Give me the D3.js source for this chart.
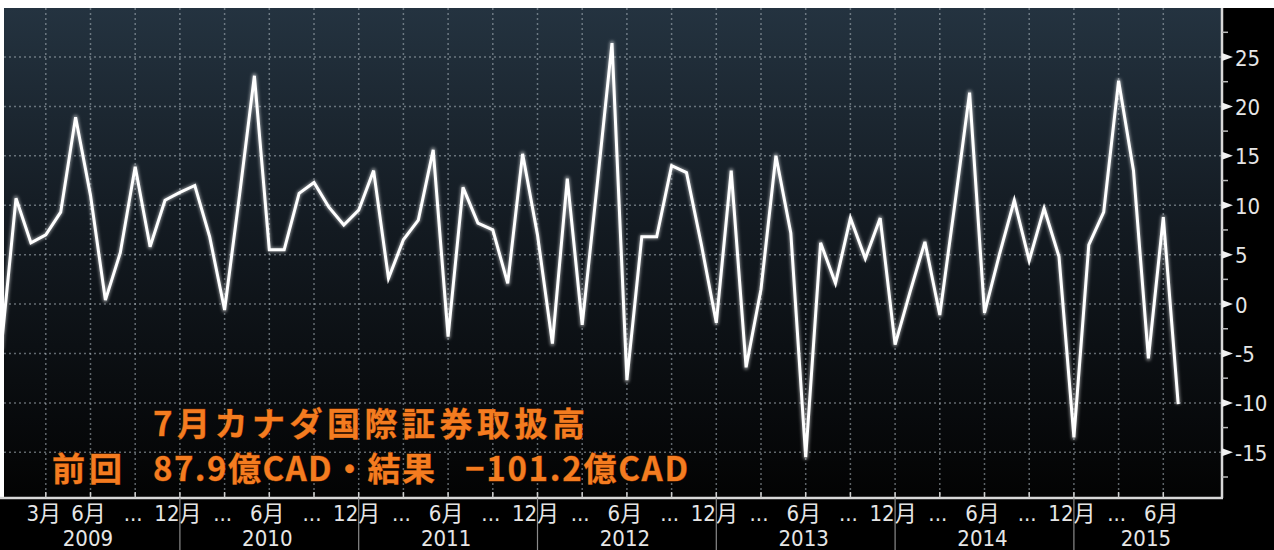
<!DOCTYPE html>
<html><head><meta charset="utf-8">
<script src="https://cdn.jsdelivr.net/npm/d3@7"></script>
<style>
html,body{margin:0;padding:0;background:#fff;}
svg{display:block;}
</style></head><body>
<svg id="c" width="1274" height="550"></svg>
<script>
// ---- data ----
const firstMonth = "2008-12";
const lastMonth = "2015-07";
const values = [
  -4.6,
  10.7, 6.2, 7.0, 9.3, 18.9, 11.0, 0.4, 5.2, 13.9, 5.8, 10.5, 11.3,
  12.0, 6.8, -0.6, 11.0, 23.1, 5.5, 5.5, 11.2, 12.3, 9.8, 8.0, 9.5,
  13.5, 2.6, 6.5, 8.5, 15.6, -3.3, 11.8, 8.2, 7.5, 2.1, 15.2, 7.0,
  -4.0, 12.7, -2.1, 12.0, 26.4, -7.7, 6.8, 6.8, 14.0, 13.3, 6.0, -1.9,
  13.5, -6.4, 1.5, 15.0, 7.2, -15.5, 6.2, 2.1, 8.7, 4.6, 8.7, -4.1,
  1.2, 6.3, -1.1, 10.0, 21.4, -0.9, 5.0, 10.5, 4.4, 9.7, 4.8, -13.5,
  6.0, 9.3, 22.6, 13.5, -5.5, 8.79, -10.12
];
const yTicks = [-15, -10, -5, 0, 5, 10, 15, 20, 25];
const yMinorTicks = [-17.5, -12.5, -7.5, -2.5, 2.5, 7.5, 12.5, 17.5, 22.5, 27.5];
const xTickMonths = [
  "2009-03","2009-06","2009-09","2009-12","2010-03","2010-06","2010-09","2010-12",
  "2011-03","2011-06","2011-09","2011-12","2012-03","2012-06","2012-09","2012-12",
  "2013-03","2013-06","2013-09","2013-12","2014-03","2014-06","2014-09","2014-12",
  "2015-03","2015-06"
];
const xTickLabels = [
  "3月","6月","...","12月","...","6月","...","12月",
  "...","6月","...","12月","...","6月","...","12月",
  "...","6月","...","12月","...","6月","...","12月",
  "...","6月"
];
const yearLabels = ["2009","2010","2011","2012","2013","2014","2015"];
const yearSeparators = ["2009-12","2010-12","2011-12","2012-12","2013-12","2014-12"];
const titleLine = "7月カナダ国際証券取扱高";
const subPieces = ["前回", "87.9億CAD・結果", "−101.2億CAD"];

// ---- layout ----
const W = 1274, H = 550;
const plot = {left: 4, top: 8, right: 1222, bottom: 498};
const parse = d3.timeParse("%Y-%m"), fmt = d3.timeFormat("%Y-%m");
const months = d3.timeMonth.range(parse(firstMonth), d3.timeMonth.offset(parse(lastMonth), 1)).map(fmt);
const data = months.map((m, i) => ({m, v: values[i]}));

const x = d3.scalePoint().domain(months).range([1.1, 1178.2]);
const y = d3.scaleLinear().domain([-15, 25]).range([452.3, 57]);

const svg = d3.select("#c");
const defs = svg.append("defs");
const grad = defs.append("linearGradient").attr("id", "bg").attr("x1", 0).attr("y1", 0).attr("x2", 0).attr("y2", 1);
grad.append("stop").attr("offset", "0%").attr("stop-color", "#243340");
grad.append("stop").attr("offset", "45%").attr("stop-color", "#131a21");
grad.append("stop").attr("offset", "100%").attr("stop-color", "#030303");
defs.append("clipPath").attr("id", "clip").append("rect")
  .attr("x", plot.left).attr("y", plot.top)
  .attr("width", plot.right - plot.left).attr("height", plot.bottom - plot.top);
const glow = defs.append("filter").attr("id", "glow").attr("x", "-5%").attr("y", "-5%").attr("width", "110%").attr("height", "110%");
glow.append("feGaussianBlur").attr("stdDeviation", 1.6);

// page backgrounds
svg.append("rect").attr("x", 0).attr("y", plot.bottom).attr("width", W).attr("height", H - plot.bottom).attr("fill", "#000");
svg.append("rect").attr("x", plot.right).attr("y", plot.top).attr("width", W - plot.right).attr("height", H - plot.top).attr("fill", "#000");
svg.append("rect").attr("x", plot.left).attr("y", plot.top)
  .attr("width", plot.right - plot.left).attr("height", plot.bottom - plot.top).attr("fill", "url(#bg)");

// grid
const grid = svg.append("g").attr("stroke", "#aab4bc").attr("stroke-opacity", 0.55)
  .attr("stroke-width", 1.5).attr("stroke-dasharray", "2,3");
grid.selectAll(".h").data(yTicks).join("line")
  .attr("x1", plot.left).attr("x2", plot.right)
  .attr("y1", d => y(d)).attr("y2", d => y(d));
grid.selectAll(".v").data(xTickMonths).join("line")
  .attr("x1", d => x(d)).attr("x2", d => x(d))
  .attr("y1", plot.top).attr("y2", plot.bottom);

// line
const line = d3.line().x(d => x(d.m)).y(d => y(d.v)).curve(d3.curveLinear);
const lg = svg.append("g").attr("clip-path", "url(#clip)");
lg.append("path").datum(data).attr("d", line).attr("fill", "none")
  .attr("stroke", "#ffffff").attr("stroke-opacity", 0.45).attr("stroke-width", 5)
  .attr("stroke-linejoin", "round").attr("filter", "url(#glow)");
lg.append("path").datum(data).attr("d", line).attr("fill", "none")
  .attr("stroke", "#ffffff").attr("stroke-width", 3)
  .attr("stroke-linejoin", "miter").attr("stroke-miterlimit", 4);

// axes lines
const axisColor = "#d8d8d8";
svg.append("line").attr("x1", 0).attr("x2", plot.right + 1).attr("y1", plot.bottom).attr("y2", plot.bottom)
  .attr("stroke", axisColor).attr("stroke-width", 2.5);
svg.append("line").attr("x1", plot.right).attr("x2", plot.right).attr("y1", plot.top).attr("y2", plot.bottom)
  .attr("stroke", axisColor).attr("stroke-width", 2.5);

// right axis ticks
svg.append("g").selectAll("path").data(yTicks).join("path")
  .attr("d", d => `M${plot.right},${y(d) - 4}L${plot.right + 11},${y(d)}L${plot.right},${y(d) + 4}Z`)
  .attr("fill", "#f0f0f0");
svg.append("g").selectAll("line").data(yMinorTicks).join("line")
  .attr("x1", plot.right).attr("x2", plot.right + 6)
  .attr("y1", d => y(d)).attr("y2", d => y(d))
  .attr("stroke", "#bbbbbb").attr("stroke-width", 1.5);
const labelFont = "'Liberation Sans Narrow', 'DejaVu Sans Condensed', sans-serif";
const labelColor = "#e6e6e6";
svg.append("g").selectAll("text").data(yTicks).join("text")
  .attr("x", plot.right + 13).attr("y", d => y(d) + 1)
  .attr("dominant-baseline", "central")
  .attr("font-family", labelFont).attr("font-size", 22).attr("fill", labelColor)
  .text(d => String(d));

// bottom axis ticks
svg.append("g").selectAll("line").data(xTickMonths).join("line")
  .attr("x1", d => x(d)).attr("x2", d => x(d))
  .attr("y1", plot.bottom - 6).attr("y2", plot.bottom)
  .attr("stroke", "#cccccc").attr("stroke-width", 1.5);
svg.append("g").selectAll("text").data(xTickMonths).join("text")
  .attr("x", d => x(d) - 2).attr("y", 521)
  .attr("text-anchor", "middle")
  .attr("font-family", labelFont + ", 'Noto Sans CJK JP'").attr("font-size", 22).attr("fill", labelColor)
  .text((d, i) => xTickLabels[i]);

// year separators and labels
svg.append("g").selectAll("line").data(yearSeparators).join("line")
  .attr("x1", d => x(d)).attr("x2", d => x(d))
  .attr("y1", plot.bottom).attr("y2", H)
  .attr("stroke", "#8a8a8a").attr("stroke-width", 1.2);
const bounds = [0, ...yearSeparators.map(d => x(d)), plot.right];
svg.append("g").selectAll("text").data(yearLabels).join("text")
  .attr("x", (d, i) => (bounds[i] + bounds[i + 1]) / 2 - 2).attr("y", 546)
  .attr("text-anchor", "middle")
  .attr("font-family", labelFont).attr("font-size", 22).attr("fill", labelColor)
  .text(d => d);

// annotation
const annFont = "'Noto Sans CJK JP', sans-serif";
const ann = svg.append("g").attr("font-family", annFont).attr("font-weight", "bold")
  .attr("font-size", 33).attr("fill", "#f47c20")
  .attr("stroke", "#7a3000").attr("stroke-width", 0.8).attr("paint-order", "stroke");
ann.append("text").attr("x", 153).attr("y", 422).attr("dominant-baseline", "central")
  .attr("textLength", 432).attr("lengthAdjust", "spacing").text(titleLine);
const subX = [52, 153, 465], subLen = [70, 282, 223];
ann.selectAll(".sub").data(subPieces).join("text")
  .attr("x", (d, i) => subX[i]).attr("y", 467).attr("dominant-baseline", "central")
  .attr("textLength", (d, i) => subLen[i]).attr("lengthAdjust", "spacing")
  .text(d => d);
</script>
</body></html>
